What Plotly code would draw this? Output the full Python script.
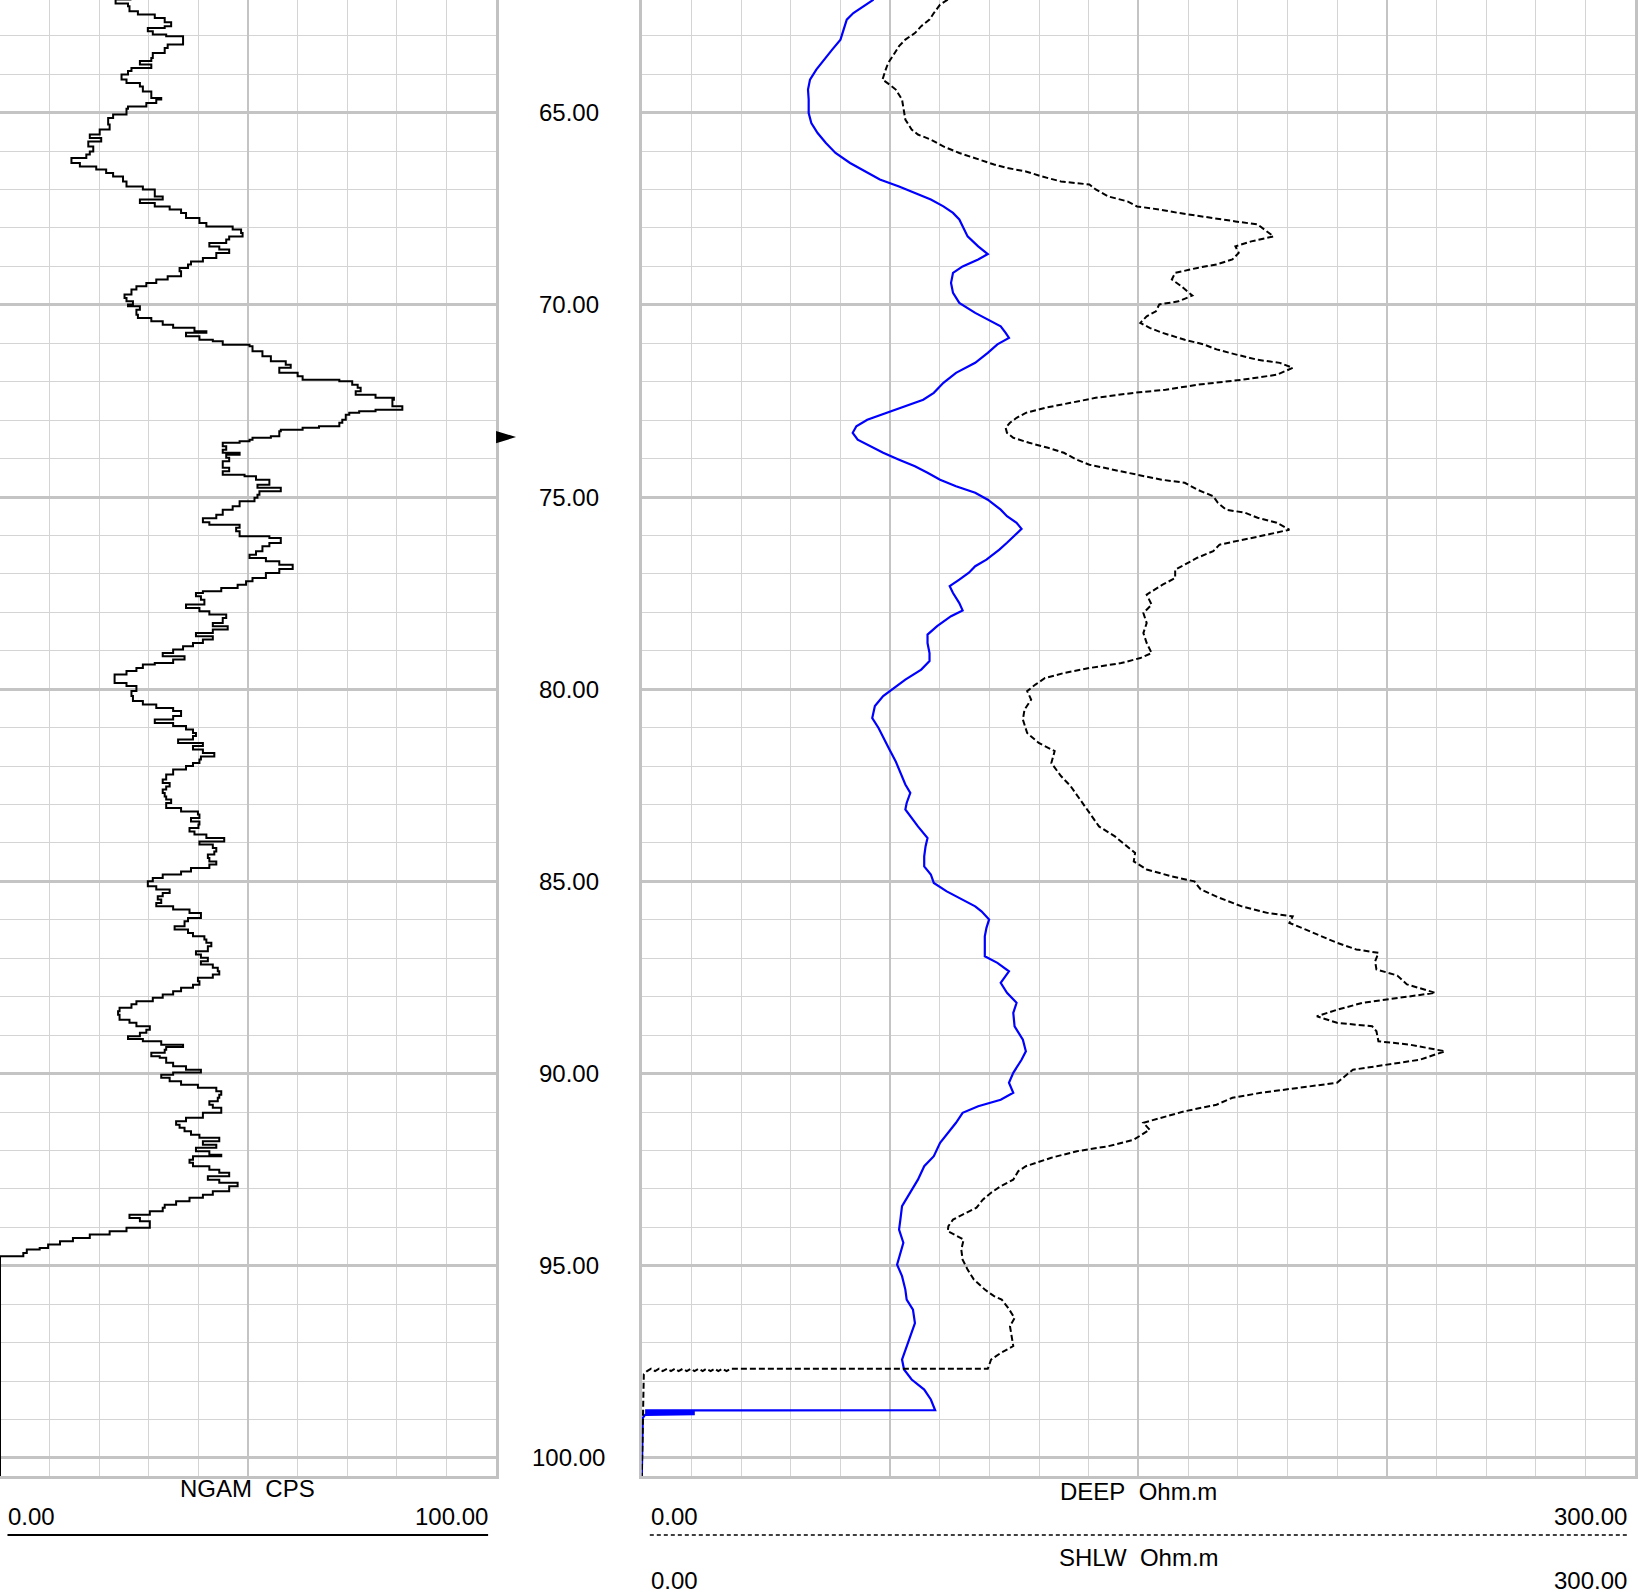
import plotly.graph_objects as go

NGAM_DEPTH = [62.06, 62.16, 62.23, 62.36, 62.45, 62.54, 62.65, 62.75, 62.80, 62.88, 62.97, 63.01, 63.23, 63.32,
              63.45, 63.58, 63.66, 63.75, 63.84, 63.92, 64.01, 64.14, 64.23, 64.32, 64.45, 64.62, 64.66, 64.75,
              64.84, 64.90, 65.05, 65.14, 65.31, 65.44, 65.57, 65.66, 65.75, 65.88, 66.01, 66.09, 66.18, 66.31,
              66.40, 66.48, 66.57, 66.66, 66.79, 66.92, 67.00, 67.18, 67.26, 67.35, 67.44, 67.52, 67.61, 67.74,
              67.87, 67.96, 68.04, 68.13, 68.22, 68.30, 68.39, 68.48, 68.56, 68.65, 68.78, 68.87, 68.95, 69.04,
              69.13, 69.26, 69.34, 69.43, 69.52, 69.60, 69.73, 69.82, 69.91, 69.99, 70.04, 70.13, 70.26, 70.34,
              70.43, 70.52, 70.60, 70.69, 70.73, 70.82, 70.91, 70.95, 71.04, 71.08, 71.21, 71.34, 71.47, 71.56,
              71.64, 71.77, 71.86, 71.95, 71.99, 72.08, 72.16, 72.25, 72.34, 72.42, 72.47, 72.64, 72.73, 72.77,
              72.81, 72.86, 72.99, 73.07, 73.16, 73.20, 73.25, 73.29, 73.42, 73.46, 73.51, 73.55, 73.59, 73.68,
              73.77, 73.85, 73.90, 73.98, 74.07, 74.24, 74.33, 74.42, 74.46, 74.55, 74.68, 74.76, 74.85, 74.94,
              75.02, 75.11, 75.24, 75.33, 75.46, 75.55, 75.66, 75.72, 75.80, 75.89, 76.02, 76.07, 76.20, 76.28,
              76.41, 76.50, 76.59, 76.67, 76.76, 76.87, 76.98, 77.11, 77.19, 77.28, 77.37, 77.45, 77.50, 77.58,
              77.67, 77.80, 77.89, 77.97, 78.06, 78.15, 78.28, 78.36, 78.45, 78.54, 78.62, 78.71, 78.80, 78.88,
              78.97, 79.06, 79.14, 79.23, 79.32, 79.36, 79.45, 79.53, 79.62, 79.75, 79.84, 79.92, 80.05, 80.18,
              80.31, 80.40, 80.49, 80.57, 80.70, 80.79, 80.88, 80.96, 81.05, 81.14, 81.22, 81.31, 81.40, 81.48,
              81.57, 81.66, 81.75, 81.83, 81.92, 82.00, 82.09, 82.22, 82.35, 82.44, 82.53, 82.61, 82.70, 82.79,
              82.87, 82.96, 83.09, 83.18, 83.26, 83.35, 83.44, 83.52, 83.61, 83.70, 83.78, 83.87, 83.96, 84.04,
              84.13, 84.22, 84.30, 84.39, 84.48, 84.56, 84.65, 84.74, 84.82, 84.91, 85.00, 85.13, 85.21, 85.30,
              85.39, 85.47, 85.56, 85.65, 85.73, 85.82, 85.95, 86.04, 86.17, 86.25, 86.34, 86.43, 86.51, 86.60,
              86.69, 86.82, 86.90, 86.99, 87.08, 87.16, 87.25, 87.34, 87.42, 87.51, 87.60, 87.69, 87.77, 87.86,
              87.94, 88.03, 88.12, 88.20, 88.29, 88.38, 88.47, 88.60, 88.68, 88.77, 88.86, 88.94, 89.03, 89.10,
              89.16, 89.25, 89.31, 89.38, 89.46, 89.55, 89.59, 89.72, 89.81, 89.90, 89.97, 90.03, 90.11, 90.20,
              90.29, 90.37, 90.46, 90.55, 90.63, 90.72, 90.81, 90.89, 91.02, 91.15, 91.24, 91.33, 91.41, 91.50,
              91.59, 91.67, 91.76, 91.85, 91.93, 92.02, 92.11, 92.15, 92.24, 92.32, 92.41, 92.50, 92.58, 92.67,
              92.76, 92.84, 92.93, 92.97, 93.06, 93.15, 93.23, 93.32, 93.41, 93.49, 93.58, 93.67, 93.76, 93.84,
              93.93, 94.01, 94.10, 94.19, 94.28, 94.36, 94.45, 94.54, 94.58, 94.67, 94.75, 94.77, 100.47]
NGAM_CPS = [26.5, 23.3, 25.8, 26.1, 27.8, 31.2, 33.2, 34.5, 33.2, 29.8, 30.8, 33.5, 36.9, 33.8,
            33.2, 30.8, 30.5, 28.2, 30.5, 26.5, 25.8, 24.5, 25.5, 28.2, 28.8, 30.5, 32.5, 31.5,
            29.5, 25.8, 25.5, 22.8, 21.8, 22.1, 20.1, 18.1, 20.4, 17.8, 18.8, 18.1, 17.4, 14.4,
            16.1, 19.4, 21.4, 22.8, 24.8, 25.5, 28.8, 31.2, 32.8, 28.2, 31.2, 34.2, 36.5, 37.5,
            40.2, 41.6, 46.9, 48.6, 48.9, 46.2, 45.6, 42.2, 44.2, 46.2, 43.6, 40.9, 38.5, 37.9,
            36.2, 36.5, 33.8, 31.5, 29.5, 27.5, 26.5, 25.1, 25.5, 26.8, 25.8, 28.2, 27.5, 27.8,
            30.5, 32.8, 34.9, 39.2, 41.6, 37.5, 40.2, 42.9, 44.9, 50.3, 50.9, 52.9, 54.6, 57.6,
            58.6, 56.3, 60.0, 61.0, 68.4, 71.0, 72.1, 72.7, 71.7, 75.7, 79.4, 79.1, 81.1, 75.7,
            72.4, 70.4, 69.7, 69.0, 68.4, 64.3, 61.0, 56.6, 56.3, 54.6, 50.9, 50.3, 48.3, 44.9,
            45.6, 44.9, 48.3, 45.6, 46.2, 44.9, 46.2, 44.9, 49.3, 51.6, 54.3, 51.9, 56.6, 52.3,
            51.9, 51.3, 48.3, 46.9, 44.9, 43.6, 40.9, 42.2, 48.3, 47.6, 48.3, 54.3, 56.6, 54.3,
            52.9, 51.6, 50.3, 53.6, 56.3, 59.0, 56.3, 53.6, 50.9, 49.6, 47.9, 44.6, 40.9, 39.5,
            40.5, 41.2, 37.5, 40.2, 42.2, 45.6, 44.9, 42.9, 45.9, 42.9, 39.5, 42.9, 40.9, 38.9,
            36.9, 34.9, 32.8, 37.2, 34.9, 31.2, 28.8, 27.5, 25.5, 23.1, 23.1, 25.5, 27.5, 26.5,
            26.8, 28.8, 31.5, 34.9, 36.5, 34.9, 31.2, 34.9, 37.5, 38.9, 39.5, 38.9, 35.9, 40.9,
            38.9, 40.9, 43.2, 40.5, 40.2, 38.9, 37.5, 34.9, 33.5, 32.8, 34.2, 33.5, 32.8, 33.2,
            33.5, 34.5, 33.5, 36.5, 39.9, 40.2, 38.5, 40.2, 40.0, 38.2, 39.2, 41.6, 45.2, 40.2,
            42.9, 43.6, 43.2, 41.9, 42.2, 43.6, 42.2, 38.5, 36.5, 32.8, 30.8, 29.8, 31.5, 34.2,
            32.8, 31.8, 32.5, 31.5, 34.9, 38.2, 40.5, 37.9, 37.2, 35.2, 37.9, 38.9, 41.2, 41.6,
            42.6, 41.9, 39.5, 40.5, 41.9, 40.5, 42.9, 43.9, 44.2, 42.9, 39.9, 40.2, 38.9, 36.5,
            34.9, 32.8, 30.8, 27.5, 26.5, 24.1, 23.8, 24.1, 26.1, 27.5, 30.2, 29.5, 28.2, 25.8,
            28.8, 32.5, 36.9, 33.5, 33.2, 30.5, 32.2, 33.5, 34.9, 37.5, 40.5, 34.9, 32.5, 34.2,
            36.5, 39.9, 43.6, 44.6, 44.2, 43.9, 42.2, 42.9, 44.6, 40.9, 37.5, 35.5, 36.2, 37.2,
            38.5, 40.2, 44.2, 40.9, 43.6, 39.5, 42.2, 44.6, 38.9, 38.2, 38.9, 42.2, 44.2, 46.2,
            41.9, 44.2, 47.9, 46.2, 46.2, 42.9, 40.9, 38.2, 35.5, 33.2, 32.8, 30.2, 26.1, 28.2,
            30.2, 30.2, 25.5, 22.1, 18.1, 14.7, 12.1, 9.7, 8.0, 5.4, 4.7, 0.0, 0.0]

SHLW_DEPTH = [62.06, 62.23, 62.41, 62.58, 62.84, 63.10, 63.36, 63.62, 63.88, 64.14, 64.40, 64.66, 65.01, 65.27,
              65.53, 65.79, 66.05, 66.31, 66.57, 66.74, 66.92, 67.09, 67.26, 67.44, 67.61, 67.78, 67.96, 68.22,
              68.48, 68.68, 68.82, 69.00, 69.17, 69.43, 69.69, 69.95, 70.21, 70.38, 70.56, 70.73, 70.86, 71.03,
              71.25, 71.51, 71.77, 72.03, 72.29, 72.47, 72.64, 72.81, 72.99, 73.16, 73.33, 73.51, 73.68, 73.85,
              74.03, 74.20, 74.37, 74.55, 74.72, 74.89, 75.07, 75.33, 75.50, 75.67, 75.83, 76.02, 76.19, 76.37,
              76.63, 76.80, 76.97, 77.15, 77.32, 77.50, 77.76, 77.95, 78.10, 78.36, 78.58, 78.80, 79.06, 79.27,
              79.49, 79.75, 79.97, 80.18, 80.44, 80.75, 81.01, 81.31, 81.57, 81.88, 82.18, 82.48, 82.70, 82.96,
              83.13, 83.31, 83.57, 83.87, 84.09, 84.35, 84.61, 84.82, 85.04, 85.26, 85.47, 85.65, 85.78, 85.99,
              86.21, 86.43, 86.69, 86.95, 87.12, 87.34, 87.64, 87.90, 88.16, 88.42, 88.77, 89.12, 89.42, 89.64,
              89.98, 90.24, 90.50, 90.68, 90.85, 91.02, 91.28, 91.54, 91.80, 92.15, 92.41, 92.76, 93.10, 93.45,
              93.80, 94.06, 94.40, 94.66, 94.97, 95.27, 95.62, 95.88, 96.14, 96.49, 96.83, 97.18, 97.44, 97.70,
              97.96, 98.22, 98.48, 98.76, 98.765, 98.78, 98.80, 98.82, 98.84, 98.86, 98.88, 98.96, 100.47]
SHLW_OHMM = [70.0, 67.1, 63.9, 61.9, 61.0, 60.0, 57.5, 55.0, 52.7, 50.8, 50.2, 50.4, 50.4, 51.2,
             53.1, 55.6, 58.5, 62.9, 68.1, 71.9, 77.7, 82.5, 87.3, 91.1, 94.0, 95.9, 96.9, 98.4,
             101.6, 104.5, 101.6, 96.9, 94.0, 93.4, 94.0, 95.9, 100.7, 104.5, 108.4, 109.9, 110.9, 107.4,
             104.5, 100.7, 94.9, 91.1, 88.2, 85.0, 79.6, 73.8, 68.1, 64.8, 63.7, 65.2, 69.0, 72.9,
             77.7, 82.5, 86.3, 90.1, 94.9, 100.7, 104.5, 108.4, 110.3, 113.2, 114.7, 112.2, 110.3, 108.0,
             104.1, 100.7, 98.8, 95.9, 93.0, 94.0, 95.9, 96.9, 93.4, 89.2, 86.3, 86.3, 86.9, 86.9,
             84.4, 79.6, 76.1, 72.9, 70.4, 69.6, 71.5, 73.4, 74.8, 76.7, 78.1, 79.6, 81.1, 80.0,
             79.6, 81.1, 83.4, 86.3, 85.7, 85.3, 85.3, 87.3, 88.2, 92.1, 96.9, 100.7, 102.6, 104.9,
             104.1, 103.6, 103.6, 103.6, 107.4, 110.9, 108.4, 110.3, 113.2, 112.2, 112.6, 115.1, 116.0, 114.7,
             112.2, 110.9, 112.2, 108.4, 101.6, 96.9, 94.9, 92.6, 90.1, 88.2, 85.3, 83.4, 81.1, 78.6,
             78.1, 77.7, 79.0, 78.1, 77.1, 78.6, 79.6, 80.0, 81.9, 82.5, 81.1, 79.6, 78.6, 79.2,
             81.5, 85.3, 87.3, 88.6, 1.0, 16.0, 1.0, 16.0, 1.0, 16.0, 1.0, 0.3, 0.0]

DEEP_DEPTH = [62.06, 62.19, 62.41, 62.58, 62.75, 62.93, 63.10, 63.27, 63.49, 63.71, 63.92, 64.14, 64.27, 64.40,
              64.66, 64.92, 65.18, 65.44, 65.57, 65.70, 65.88, 66.05, 66.22, 66.35, 66.44, 66.53, 66.66, 66.79,
              66.87, 67.00, 67.18, 67.31, 67.44, 67.52, 67.61, 67.74, 67.83, 67.91, 68.04, 68.22, 68.35, 68.48,
              68.65, 68.82, 68.95, 69.04, 69.17, 69.34, 69.52, 69.76, 69.91, 69.99, 70.17, 70.30, 70.47, 70.60,
              70.73, 70.91, 71.03, 71.16, 71.29, 71.43, 71.51, 71.64, 71.82, 71.95, 72.08, 72.21, 72.29, 72.42,
              72.55, 72.68, 72.81, 72.94, 73.07, 73.20, 73.33, 73.46, 73.59, 73.72, 73.85, 74.03, 74.16, 74.29,
              74.42, 74.55, 74.63, 74.81, 74.98, 75.15, 75.33, 75.41, 75.54, 75.67, 75.85, 75.98, 76.11, 76.24,
              76.41, 76.58, 76.76, 76.89, 77.11, 77.28, 77.54, 77.80, 78.02, 78.28, 78.54, 78.80, 79.06, 79.19,
              79.32, 79.45, 79.58, 79.71, 79.88, 80.05, 80.27, 80.53, 80.79, 81.14, 81.40, 81.61, 81.92, 82.26,
              82.52, 82.87, 83.22, 83.57, 83.83, 84.09, 84.26, 84.48, 84.69, 84.87, 85.00, 85.21, 85.43, 85.65,
              85.82, 85.91, 86.08, 86.25, 86.43, 86.60, 86.77, 86.86, 87.08, 87.29, 87.45, 87.68, 87.90, 88.03,
              88.16, 88.34, 88.51, 88.68, 88.77, 88.90, 89.16, 89.25, 89.42, 89.64, 89.77, 89.90, 90.03, 90.24,
              90.37, 90.50, 90.63, 90.81, 90.98, 91.20, 91.28, 91.46, 91.72, 91.89, 92.02, 92.19, 92.41, 92.54,
              92.76, 92.93, 93.10, 93.28, 93.49, 93.67, 93.80, 93.97, 94.10, 94.32, 94.58, 94.84, 95.10, 95.36,
              95.62, 95.79, 95.88, 96.10, 96.36, 96.57, 96.83, 97.09, 97.27, 97.44, 97.68,
              97.68, 97.74, 97.68, 97.74, 97.68, 97.74, 97.68, 97.74, 97.68, 97.74, 97.68, 97.74,
              97.68, 97.74, 97.68, 97.74, 97.68, 97.74, 97.68, 97.74, 97.68, 97.74, 97.82, 100.47]
DEEP_OHMM = [92.4, 90.1, 88.2, 86.9, 84.4, 82.5, 79.6, 77.7, 76.1, 74.4, 73.5, 72.7, 74.8, 76.7,
             78.6, 79.2, 79.6, 81.5, 83.4, 87.3, 91.1, 95.9, 101.6, 106.4, 110.3, 116.0, 120.8, 126.6,
             135.2, 137.1, 140.9, 146.7, 149.6, 156.3, 162.1, 171.7, 179.3, 186.0, 187.9, 190.8, 184.1, 179.3,
             180.3, 178.4, 173.6, 167.8, 161.1, 160.1, 163.0, 166.3, 162.1, 156.3, 155.3, 152.5, 150.6, 153.4,
             157.3, 164.0, 169.7, 173.6, 179.3, 186.0, 192.7, 196.6, 191.8, 181.2, 167.8, 158.2, 148.6, 137.1,
             129.5, 121.8, 116.0, 113.2, 111.2, 109.9, 110.3, 112.2, 117.0, 122.7, 127.5, 131.4, 135.2, 141.9,
             149.6, 157.0, 164.0, 167.8, 172.6, 174.0, 176.5, 182.2, 186.0, 191.8, 195.6, 188.9, 181.2, 174.5,
             172.6, 167.8, 164.0, 161.1, 161.1, 157.3, 152.5, 154.0, 151.5, 152.5, 151.5, 152.5, 154.0, 150.6,
             144.8, 135.2, 127.5, 121.8, 118.9, 116.4, 117.6, 115.6, 115.1, 116.4, 119.9, 124.7, 123.7, 126.6,
             129.5, 132.3, 135.2, 138.1, 142.9, 146.7, 149.0, 148.6, 152.5, 160.1, 166.9, 168.8, 174.5, 181.2,
             188.9, 196.6, 195.6, 200.4, 205.2, 210.0, 215.8, 222.5, 221.5, 221.9, 228.2, 231.1, 239.7, 229.2,
             217.7, 210.0, 203.9, 210.0, 220.6, 221.9, 222.5, 232.1, 242.6, 235.0, 224.4, 214.8, 212.9, 210.0,
             198.5, 187.0, 178.4, 173.6, 164.0, 155.3, 151.5, 153.4, 148.6, 140.9, 131.4, 123.7, 116.0, 113.7,
             112.2, 108.4, 105.5, 103.0, 101.1, 96.9, 94.0, 92.6, 92.4, 97.2, 96.5, 96.9, 98.4, 100.3,
             103.6, 106.4, 108.7, 110.7, 112.6, 111.2, 111.8, 112.2, 108.4, 105.5, 104.5,
             26.8, 25.6, 24.4, 23.1, 22.0, 20.8, 19.5, 18.4, 17.2, 15.9, 14.8, 13.6,
             12.4, 11.1, 10.0, 8.8, 7.6, 6.3, 5.2, 4.0, 2.8, 1.6, 0.6, 0.0]

DEPTH_TICKS = [65, 70, 75, 80, 85, 90, 95, 100]
DEPTH_RANGE = [100.47, 62.07]
NGAM_RANGE = [0, 100]
RES_RANGE = [0, 300]
MARKER_DEPTH = 73.44

# ---------------- layout helpers (pixel geometry of the page) ----------------
W, H = 1638, 1596
PLOT_BOTTOM = 1476  # pixel row of the bottom of the tracks


def px(xp):
    return xp / W


def py(yp):
    return (PLOT_BOTTOM - yp) / PLOT_BOTTOM


FONT = "Liberation Sans, Arial, sans-serif"
MINOR_GRID = "#d4d4d4"
MAJOR_GRID = "#c4c4c4"
BORDER = "#c2c2c2"

fig = go.Figure()
fig.add_trace(go.Scatter(x=NGAM_CPS, y=NGAM_DEPTH, xaxis="x", yaxis="y", mode="lines",
                         line=dict(color="black", width=2, shape="hv"), name="NGAM",
                         cliponaxis=False))
fig.add_trace(go.Scatter(x=SHLW_OHMM, y=SHLW_DEPTH, xaxis="x2", yaxis="y2", mode="lines",
                         line=dict(color="#0000ff", width=2.2), name="SHLW", cliponaxis=False))
fig.add_trace(go.Scatter(x=DEEP_OHMM, y=DEEP_DEPTH, xaxis="x2", yaxis="y2", mode="lines",
                         line=dict(color="black", width=2, dash="6px,3px"), name="DEEP",
                         cliponaxis=False))

common = dict(showticklabels=False, ticks="", zeroline=False, showline=True,
              linecolor=BORDER, linewidth=3, layer="below traces")

xaxis = dict(domain=[0, px(497)], range=NGAM_RANGE, tick0=0, dtick=50, showgrid=True,
             gridcolor=MAJOR_GRID, gridwidth=2,
             minor=dict(tick0=0, dtick=10, showgrid=True, gridcolor=MINOR_GRID, gridwidth=1),
             anchor="y", **common)
xaxis2 = dict(domain=[px(643), 1], range=RES_RANGE, tick0=0, dtick=75, showgrid=True,
              gridcolor=MAJOR_GRID, gridwidth=2,
              minor=dict(tick0=0, dtick=15, showgrid=True, gridcolor=MINOR_GRID, gridwidth=1),
              anchor="y2", **common)
ycommon = dict(domain=[0, 1], range=DEPTH_RANGE, tick0=0, dtick=5, showgrid=True,
               gridcolor=MAJOR_GRID, gridwidth=2.5, mirror=True,
               minor=dict(tick0=0, dtick=1, showgrid=True, gridcolor=MINOR_GRID, gridwidth=1),
               **common)
yaxis = dict(anchor="x", **ycommon)
yaxis2 = dict(anchor="x2", matches="y", **ycommon)

annotations = []
for d in DEPTH_TICKS:
    annotations.append(dict(x=px(570), xref="paper", y=d, yref="y", text=f"{d:.2f}",
                            showarrow=False, xanchor="center", yanchor="middle",
                            font=dict(family=FONT, size=24, color="black")))


def label(text, xp, yp, anchor):
    annotations.append(dict(x=px(xp), xref="paper", y=py(yp), yref="paper", text=text,
                            showarrow=False, xanchor=anchor, yanchor="middle", borderpad=0,
                            font=dict(family=FONT, size=24, color="black")))


NB = "\u00a0"
label(f"NGAM{NB}{NB}CPS", 248, 1489, "center")
label("0.00", 7, 1517, "left")
label("100.00", 490, 1517, "right")
label(f"DEEP{NB}{NB}Ohm.m", 1141, 1491, "center")
label("0.00", 651, 1517, "left")
label("300.00", 1631, 1517, "right")
label(f"SHLW{NB}{NB}Ohm.m", 1141, 1557, "center")
label("0.00", 651, 1580, "left")
label("300.00", 1631, 1580, "right")

shapes = [
    dict(type="line", xref="paper", yref="paper", x0=px(7.5), x1=px(489), y0=py(1535), y1=py(1535),
         line=dict(color="black", width=2)),
    dict(type="line", xref="paper", yref="paper", x0=px(651), x1=px(1630), y0=py(1535), y1=py(1535),
         line=dict(color="black", width=1.5, dash="4px,3px")),
    dict(type="path", xref="paper", yref="y",
         path=f"M {px(497)} {MARKER_DEPTH - 0.16} L {px(517)} {MARKER_DEPTH} L {px(497)} {MARKER_DEPTH + 0.16} Z",
         fillcolor="black", line=dict(color="black", width=0)),
]

fig.update_layout(width=W, height=H, margin=dict(l=0, r=0, t=0, b=H - PLOT_BOTTOM, pad=0),
                  paper_bgcolor="white", plot_bgcolor="white", showlegend=False,
                  xaxis=xaxis, xaxis2=xaxis2, yaxis=yaxis, yaxis2=yaxis2,
                  annotations=annotations, shapes=shapes,
                  font=dict(family=FONT, size=24, color="black"))

fig.write_html("out.html", config={"displayModeBar": False},
               post_script="document.body.style.margin='0px';document.body.style.overflow='hidden';")
